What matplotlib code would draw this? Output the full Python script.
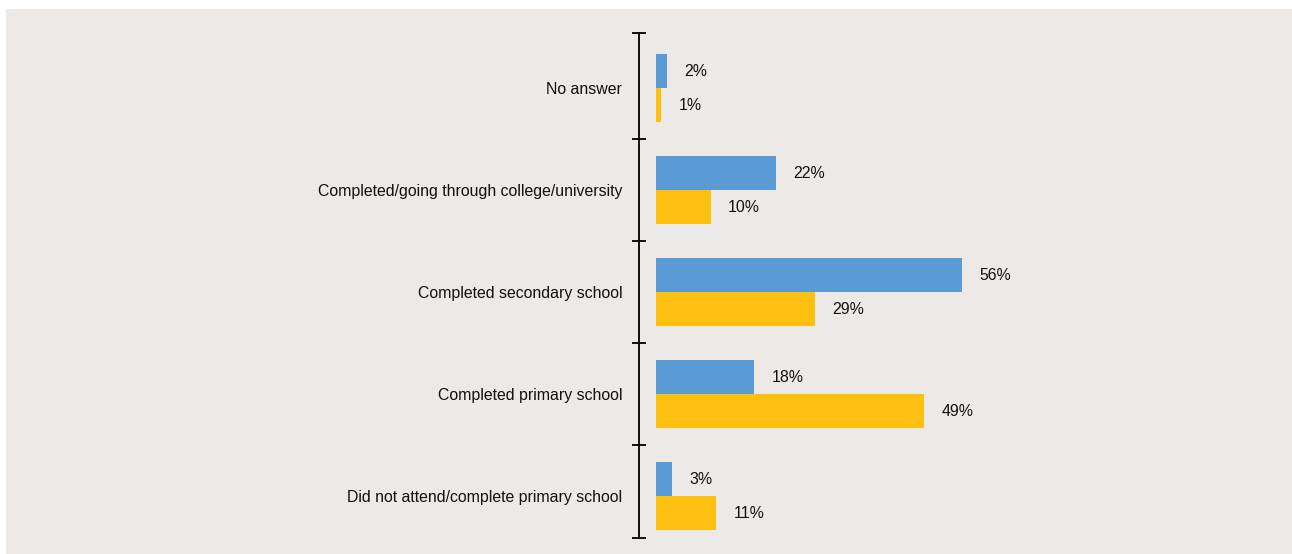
import matplotlib.pyplot as plt
import matplotlib.patches as mpatches
import numpy as np

categories = ["No answer",
              "Completed/going through college/university",
              "Completed secondary school",
              "Completed primary school",
              "Did not attend/complete primary school"]
series_blue = [2, 22, 56, 18, 3]
series_yellow = [1, 10, 29, 49, 11]

blue = "#5B9BD5"
yellow = "#FEC010"
bg = "#EDE9E6"

plt.rcParams['font.family'] = ['Liberation Sans', 'DejaVu Sans']

W, H = 1292, 554
fig = plt.figure(figsize=(W / 100, H / 100), dpi=100, facecolor="white")
# grey panel behind the chart, leaving a thin white edge top and left
fig.patches.append(mpatches.Rectangle((6 / W, 0), 1 - 6 / W, 1 - 9 / H,
                                      transform=fig.transFigure,
                                      facecolor=bg, edgecolor="none", zorder=-10))

left, right = 639, 1203
top, bottom = 33, 538
ax = fig.add_axes([left / W, (H - bottom) / H, (right - left) / W, (bottom - top) / H])
ax.set_facecolor("none")

y = np.arange(len(categories))
h = 0.333
ax.barh(y - h / 2, series_blue, height=h, color=blue)
ax.barh(y + h / 2, series_yellow, height=h, color=yellow)

for yi, v in zip(y, series_blue):
    ax.annotate(f"{v}%", (v, yi - h / 2), xytext=(12.5, 0), textcoords="offset points",
                ha="left", va="center", fontsize=11.4, color="#111111")
for yi, v in zip(y, series_yellow):
    ax.annotate(f"{v}%", (v, yi + h / 2), xytext=(12.5, 0), textcoords="offset points",
                ha="left", va="center", fontsize=11.4, color="#111111")

ax.set_xlim(-3.1, 100)
ax.set_ylim(4.41, -0.54)

for s in ["top", "right", "bottom"]:
    ax.spines[s].set_visible(False)
ax.spines["left"].set_linewidth(1.3)
ax.spines["left"].set_color("black")
ax.set_xticks([])

ax.set_yticks([-0.54, 0.5, 1.5, 2.5, 3.5, 4.41])
ax.set_yticklabels([])
ax.tick_params(axis="y", which="major", direction="inout", length=10, width=1.3, color="black")
ax.set_yticks(y, minor=True)
ax.set_yticklabels(categories, minor=True, fontsize=11.4, color="#111111")
ax.tick_params(axis="y", which="minor", length=0, pad=12)

plt.savefig("out.png", dpi=100, facecolor=fig.get_facecolor())
